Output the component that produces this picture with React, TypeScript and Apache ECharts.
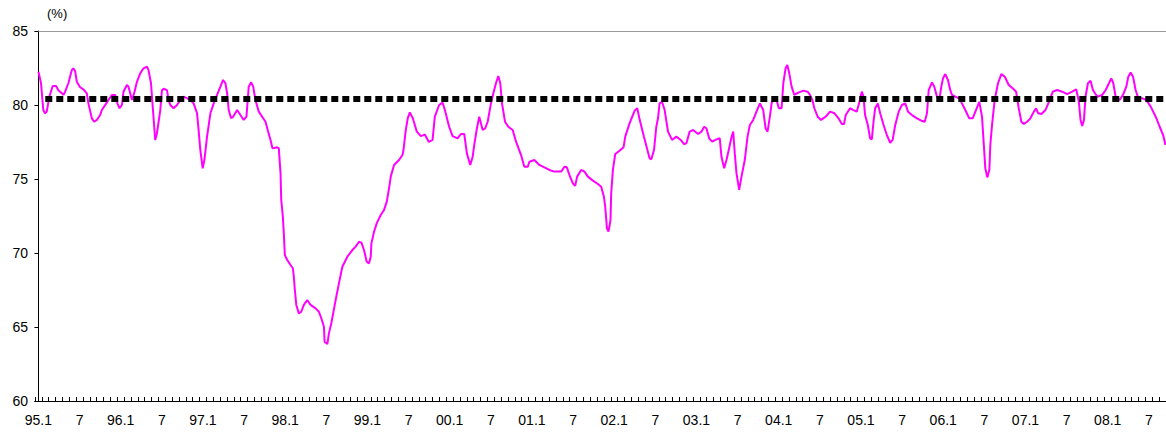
import React, { useEffect, useRef } from "react";
import * as echarts from "echarts";

// Year prefixes for the month categories (95.1 ... 08.9)
const years = ["95", "96", "97", "98", "99", "00", "01", "02", "03", "04", "05", "06", "07", "08"];
const monthCount = 165;

// Y axis
const yMin = 60;
const yMax = 85;
const yStep = 5;
const yUnit = "(%)";

// Reference level (dotted line)
const referenceLevel = 80.4;
const referenceFrom = 1;
const referenceTo = 164.5;

// Observations: month offset from 95.1 (0 = Jan 1995) and rate (%)
const obsMonth = [
  0.0, 0.38, 0.71, 0.96, 1.21, 1.59, 2.09, 2.57, 2.91, 3.4, 3.64, 3.89, 4.37, 4.87, 5.1, 5.35, 5.6, 6.08, 6.56, 7.06,
  7.29, 7.79, 8.13, 8.52, 9.0, 9.25, 9.73, 10.22, 10.71, 11.2, 11.53, 11.82, 12.18, 12.41, 12.91, 13.14, 13.64, 13.97, 14.37, 14.85,
  15.33, 15.83, 16.06, 16.42, 16.71, 17.04, 17.29, 17.78, 18.02, 18.26, 18.75, 18.99, 19.24, 19.72, 20.22, 20.7, 21.18, 22.16, 22.64, 23.14,
  23.37, 23.62, 23.96, 24.21, 24.6, 25.09, 25.57, 26.06, 26.55, 26.94, 27.28, 27.53, 27.76, 28.11, 28.4, 28.99, 29.47, 29.95, 30.35, 30.68,
  31.04, 31.33, 31.66, 32.15, 32.64, 33.13, 33.46, 33.86, 34.15, 34.84, 35.07, 35.32, 35.42, 35.66, 35.8, 35.95, 36.3, 36.78, 37.12, 37.26,
  37.41, 37.62, 37.99, 38.35, 38.72, 39.22, 39.7, 40.44, 40.92, 41.27, 41.65, 41.75, 42.15, 42.38, 42.73, 43.36, 43.84, 44.34, 45.07, 45.8,
  46.28, 46.77, 47.12, 47.5, 47.89, 48.23, 48.48, 48.58, 48.96, 49.35, 49.94, 50.42, 50.82, 51.15, 51.4, 51.88, 52.61, 53.11, 53.26, 53.59,
  53.88, 54.18, 54.62, 55.2, 55.79, 56.37, 56.96, 57.5, 57.83, 58.46, 58.96, 59.3, 59.92, 60.42, 61.15, 61.64, 62.12, 62.51, 63.0, 63.35,
  63.58, 63.97, 64.31, 64.81, 65.19, 65.54, 66.02, 66.42, 66.75, 67.09, 67.38, 67.63, 68.07, 68.55, 69.19, 69.68, 70.41, 70.89, 71.39, 71.62,
  72.35, 73.08, 73.81, 74.54, 75.27, 76.26, 76.74, 77.09, 77.47, 77.96, 78.3, 78.59, 79.18, 79.66, 80.16, 80.89, 81.62, 82.1, 82.5, 82.69,
  82.94, 83.17, 83.46, 83.56, 83.81, 84.15, 84.78, 85.36, 85.61, 86.24, 86.97, 87.37, 87.7, 88.34, 89.16, 89.41, 89.81, 90.14, 90.39, 90.62,
  90.98, 91.36, 91.85, 92.44, 93.07, 93.7, 94.19, 94.53, 95.01, 95.51, 96.24, 96.72, 97.12, 97.45, 97.85, 98.29, 98.92, 99.4, 99.65, 100.04,
  100.38, 100.71, 101.11, 101.36, 101.59, 101.84, 102.23, 102.57, 103.05, 103.45, 103.79, 104.28, 104.76, 105.25, 105.74, 106.08, 106.37, 106.71, 106.96, 107.29,
  107.69, 108.02, 108.42, 108.67, 109.0, 109.25, 109.54, 109.88, 110.27, 110.86, 111.59, 112.22, 112.56, 112.91, 113.2, 113.68, 114.17, 114.86, 115.49, 116.14,
  116.72, 117.2, 117.53, 117.78, 118.41, 118.91, 119.38, 119.72, 120.12, 120.37, 120.6, 121.0, 121.33, 121.58, 121.83, 122.07, 122.46, 122.8, 123.3, 123.78,
  124.26, 124.62, 125.0, 125.5, 125.98, 126.46, 126.86, 127.44, 128.17, 128.8, 129.3, 129.63, 129.88, 130.36, 130.7, 131.09, 131.43, 131.72, 131.97, 132.3,
  132.69, 133.03, 133.27, 133.76, 134.34, 134.73, 135.22, 135.8, 136.3, 136.78, 137.26, 137.66, 137.91, 138.14, 138.43, 138.73, 138.87, 139.12, 139.51, 139.99,
  140.48, 140.98, 141.56, 142.29, 142.63, 143.02, 143.4, 143.75, 144.24, 144.72, 145.22, 145.55, 145.85, 146.33, 146.91, 147.41, 147.99, 148.62, 149.35, 150.08,
  150.81, 151.4, 151.79, 152.03, 152.28, 152.53, 152.76, 153.11, 153.49, 153.84, 154.47, 155.2, 155.68, 156.18, 156.52, 156.81, 157.15, 157.73, 158.23, 158.71,
  159.0, 159.34, 159.69, 160.07, 160.47, 161.05, 161.64, 162.27, 163.0, 163.58, 164.08, 164.42,
];
const obsRate = [
  82.25, 81.47, 79.66, 79.44, 79.55, 80.56, 81.28, 81.28, 81.0, 80.8, 80.68, 80.9, 81.47, 82.36, 82.48, 82.3, 81.57, 81.2, 81.06, 80.79,
  80.11, 79.1, 78.87, 78.99, 79.32, 79.66, 79.99, 80.34, 80.68, 80.68, 80.11, 79.78, 80.0, 80.9, 81.35, 81.24, 80.34, 80.8, 81.57, 82.14,
  82.48, 82.59, 82.36, 81.47, 79.66, 77.63, 78.09, 79.66, 81.0, 81.1, 81.0, 80.34, 80.0, 79.78, 80.0, 80.34, 80.56, 80.34, 80.11, 79.44,
  78.3, 76.96, 75.72, 76.28, 77.86, 79.44, 80.11, 80.68, 81.24, 81.69, 81.47, 80.79, 79.66, 79.1, 79.21, 79.66, 79.32, 78.99, 79.21, 81.24,
  81.53, 81.24, 80.34, 79.55, 79.21, 78.87, 78.3, 77.63, 77.07, 77.14, 77.07, 75.4, 73.6, 72.45, 71.33, 69.86, 69.53, 69.19, 68.97, 68.4,
  67.5, 66.49, 65.92, 66.03, 66.49, 66.82, 66.49, 66.26, 66.03, 65.59, 65.02, 64.0, 63.85, 64.57, 65.25, 66.82, 67.95, 69.07, 69.75, 70.2,
  70.43, 70.76, 70.7, 70.2, 69.41, 69.3, 69.75, 70.65, 71.44, 72.0, 72.57, 72.91, 73.47, 74.37, 75.16, 75.95, 76.28, 76.62, 76.96, 78.3,
  79.1, 79.5, 79.1, 78.2, 77.9, 78.0, 77.5, 77.64, 79.21, 80.0, 80.16, 79.66, 78.53, 77.9, 77.75, 78.04, 78.04, 76.73, 75.95, 76.5,
  77.3, 78.43, 79.21, 78.31, 78.43, 78.87, 80.11, 80.9, 81.47, 81.96, 81.47, 80.11, 78.87, 78.53, 78.31, 77.52, 76.62, 75.83, 75.83, 76.17,
  76.28, 75.95, 75.79, 75.61, 75.5, 75.5, 75.83, 75.79, 75.27, 74.71, 74.53, 75.16, 75.61, 75.5, 75.16, 74.89, 74.66, 74.48, 73.8, 73.13,
  71.67, 71.44, 72.23, 74.03, 75.61, 76.69, 76.91, 77.14, 77.86, 78.76, 79.61, 79.78, 79.03, 77.86, 76.4, 76.33, 76.96, 78.53, 79.1, 80.11,
  80.22, 79.66, 78.2, 77.64, 77.86, 77.64, 77.36, 77.41, 78.2, 78.31, 78.04, 78.2, 78.53, 78.43, 77.75, 77.52, 77.68, 77.75, 76.5, 75.72,
  76.28, 76.96, 77.82, 78.2, 76.73, 75.38, 74.26, 75.16, 76.28, 77.86, 78.65, 78.99, 79.55, 80.11, 79.66, 78.43, 78.2, 79.21, 80.11, 80.56,
  80.34, 79.78, 79.78, 81.47, 82.48, 82.7, 82.14, 81.24, 80.68, 80.84, 80.97, 80.9, 80.68, 80.34, 79.78, 79.21, 78.99, 79.21, 79.55, 79.44,
  79.1, 78.72, 78.72, 79.32, 79.78, 79.66, 79.55, 80.11, 80.9, 80.56, 79.32, 78.65, 77.75, 77.68, 78.87, 79.78, 80.11, 79.44, 78.65, 77.97,
  77.45, 77.64, 78.65, 79.55, 80.0, 80.11, 79.55, 79.32, 79.1, 78.94, 78.87, 79.44, 81.0, 81.53, 81.24, 80.56, 80.34, 81.24, 81.8, 82.09,
  81.69, 81.0, 80.68, 80.56, 80.45, 80.11, 79.66, 79.1, 79.1, 79.66, 80.22, 79.21, 77.41, 75.72, 75.11, 75.61, 77.3, 78.65, 80.34, 81.47,
  82.09, 81.91, 81.35, 81.06, 80.9, 79.78, 78.87, 78.72, 78.87, 79.1, 79.55, 79.78, 79.44, 79.39, 79.66, 80.2, 80.9, 81.01, 80.9, 80.74,
  80.9, 81.06, 80.2, 78.99, 78.58, 78.99, 80.56, 81.47, 81.64, 81.01, 80.56, 80.68, 81.0, 81.47, 81.8, 81.47, 80.56, 80.34, 80.68, 81.24,
  81.91, 82.19, 81.91, 81.01, 80.45, 80.45, 80.34, 79.89, 79.21, 78.53, 77.97, 77.3,
];

const FONT = "'Liberation Sans', Arial, sans-serif";

export default function App() {
  const ref = useRef<HTMLDivElement>(null);

  useEffect(() => {
    if (!ref.current) return;
    const chart = echarts.init(ref.current, undefined, { renderer: "svg" });

    const categories: string[] = [];
    const labels: string[] = [];
    years.forEach((y) => {
      for (let mo = 1; mo <= 12; mo++) {
        categories.push(`${y}-${mo}`);
        labels.push(mo === 1 ? `${y}.1` : mo === 7 ? "7" : "");
      }
    });
    const cats = categories.slice(0, monthCount);

    const lineData = obsMonth.map((m, i) => [m, obsRate[i]]);
    const refData = [
      [referenceFrom, referenceLevel],
      [referenceTo, referenceLevel],
    ];

    chart.setOption({
      animation: false,
      backgroundColor: "#ffffff",
      grid: { left: 35, right: 0, top: 31, bottom: 33, containLabel: false },
      graphic: [
        {
          type: "text",
          left: 47,
          top: 7,
          style: { text: yUnit, font: `13px ${FONT}`, fill: "#000" },
        },
      ],
      xAxis: [
        {
          type: "category",
          data: cats,
          boundaryGap: true,
          position: "bottom",
          axisLine: { show: true, lineStyle: { color: "#000", width: 1 } },
          axisTick: { show: true, interval: 0, inside: true, length: 4, lineStyle: { color: "#000", width: 1 } },
          axisLabel: {
            interval: 5,
            margin: 12,
            color: "#000",
            fontSize: 14,
            fontFamily: FONT,
            formatter: (_v: string, i: number) => labels[i],
          },
          splitLine: { show: false },
        },
        {
          type: "value",
          min: -0.5,
          max: monthCount - 0.5,
          position: "top",
          axisLine: { show: true, onZero: false, lineStyle: { color: "#9a9a9a", width: 1 } },
          axisTick: { show: false },
          axisLabel: { show: false },
          splitLine: { show: false },
        },
      ],
      yAxis: {
        type: "value",
        min: yMin,
        max: yMax,
        interval: yStep,
        axisLine: { show: true, lineStyle: { color: "#000", width: 1 } },
        axisTick: { show: true, length: 4, lineStyle: { color: "#000" } },
        axisLabel: { color: "#000", fontSize: 14, fontFamily: FONT, margin: 7 },
        splitLine: { show: false },
      },
      series: [
        {
          type: "line",
          xAxisIndex: 1,
          data: lineData,
          showSymbol: false,
          symbol: "none",
          lineStyle: { color: "#ff00ff", width: 2 },
          z: 2,
        },
        {
          type: "line",
          xAxisIndex: 1,
          data: refData,
          showSymbol: false,
          symbol: "none",
          lineStyle: { color: "#000", width: 6, type: [7, 4], cap: "butt" },
          z: 3,
        },
      ],
    });

    return () => chart.dispose();
  }, []);

  return (
    <div
      ref={ref}
      style={{ position: "fixed", left: 0, top: 0, width: 1166, height: 434, background: "#fff" }}
    />
  );
}
